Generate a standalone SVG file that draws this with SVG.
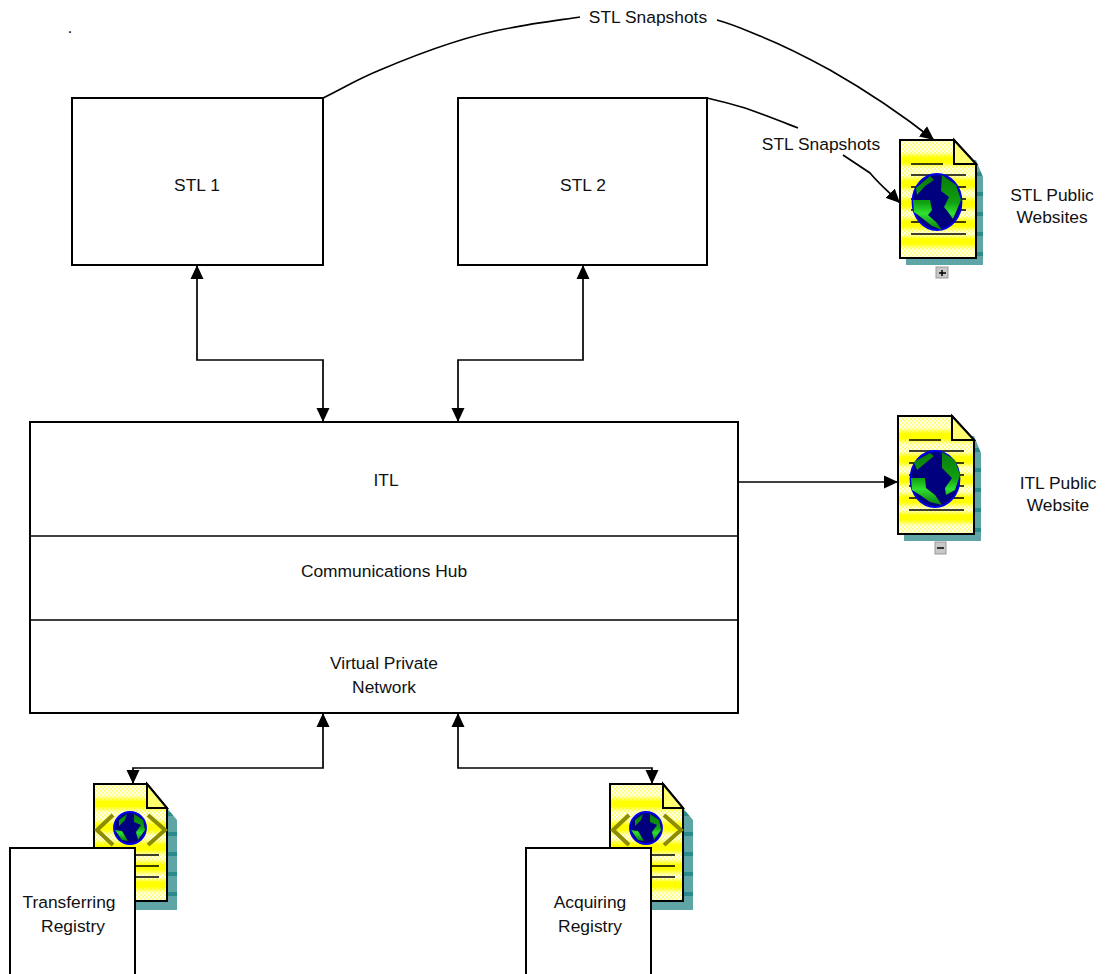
<svg xmlns="http://www.w3.org/2000/svg" width="1106" height="974" viewBox="0 0 1106 974">
<style>
text{font-family:"Liberation Sans",Arial,sans-serif;font-size:17.4px;fill:#111;text-anchor:middle}
.box{fill:#fff;stroke:#000;stroke-width:2}
.con{fill:none;stroke:#000;stroke-width:1.7;marker-end:url(#ah)}
.both{marker-start:url(#ah)}
.plain{fill:none;stroke:#000;stroke-width:1.7}
.ln{stroke:#000;stroke-width:1.6;fill:none}
.earth{fill:#00007f;stroke:#0000f0;stroke-width:1.8}
.land{fill:url(#green)}
.fold{fill:#ffff70;stroke:#000;stroke-width:2}
.edge{fill:none;stroke:#000;stroke-width:2}
</style>
<defs>
<marker id="ah" markerUnits="userSpaceOnUse" markerWidth="15" markerHeight="14" refX="14" refY="7" orient="auto-start-reverse"><path d="M0 0.500L14 7L0 13.500Z" fill="#000"/></marker>
<pattern id="dots" width="4" height="4" patternUnits="userSpaceOnUse"><rect width="4" height="4" fill="#ffff80"/><circle cx="1" cy="1" r="1.200" fill="#fff" fill-opacity=".85"/><circle cx="3" cy="3" r="1.200" fill="#fff" fill-opacity=".85"/></pattern>
<pattern id="tealp" width="6" height="20" patternUnits="userSpaceOnUse"><rect width="6" height="20" fill="#5fa5a5"/><rect y="12" width="6" height="4" fill="#2b8a8a"/></pattern>
<linearGradient id="green" x1="0" y1="0" x2="0" y2="1"><stop offset="0" stop-color="#0a7a0a"/><stop offset=".5" stop-color="#10a010"/><stop offset=".7" stop-color="#30e030"/><stop offset="1" stop-color="#0a7a0a"/></linearGradient>
<linearGradient id="bands" x1="0" y1="0" x2="0" y2="1">
<stop offset=".10" stop-color="#ff0" stop-opacity="0"/><stop offset=".15" stop-color="#ff0"/><stop offset=".19" stop-color="#ff0"/><stop offset=".24" stop-color="#ff0" stop-opacity="0"/>
<stop offset=".30" stop-color="#ff0" stop-opacity="0"/><stop offset=".35" stop-color="#ff0"/><stop offset=".39" stop-color="#ff0"/><stop offset=".44" stop-color="#ff0" stop-opacity="0"/>
<stop offset=".47" stop-color="#ff0" stop-opacity="0"/><stop offset=".52" stop-color="#ff0"/><stop offset=".56" stop-color="#ff0"/><stop offset=".61" stop-color="#ff0" stop-opacity="0"/>
<stop offset=".64" stop-color="#ff0" stop-opacity="0"/><stop offset=".69" stop-color="#ff0"/><stop offset=".73" stop-color="#ff0"/><stop offset=".78" stop-color="#ff0" stop-opacity="0"/>
<stop offset=".80" stop-color="#ff0" stop-opacity="0"/><stop offset=".84" stop-color="#ff0"/><stop offset=".88" stop-color="#ff0"/><stop offset=".93" stop-color="#ff0" stop-opacity="0"/>
</linearGradient>
<g id="sheet">
<path d="M906 258V160H976L983 177V265H906Z" fill="url(#tealp)"/>
<path d="M900 140H954L976 164V258H900Z" fill="url(#dots)"/>
<path d="M900 140H954L976 164V258H900Z" fill="url(#bands)"/>
<path class="edge" d="M900 140H954L976 164V258H900Z"/>
<path class="fold" d="M954 140L976 164H954Z"/>
<path class="ln" d="M911 164H943M911 175H966M911 187H966M911 199H966M911 210H966M911 222H966M911 234H966"/>
</g>
<g id="sheetR">
<path d="M100 901V820H167V808L177 820V910H100Z" fill="url(#tealp)"/>
<path d="M94 784H147L167 808V901H94Z" fill="url(#dots)"/>
<path d="M94 784H147L167 808V901H94Z" fill="url(#bands)"/>
<path class="edge" d="M94 784H147L167 808V901H94Z"/>
<path class="fold" d="M147 784L167 808H147Z"/>
<path class="ln" d="M135 855H159M135 866H159M135 877H159"/>
<path d="M113 815L97 830L113 845M148 815L165 830L148 845" fill="none" stroke="#8c8c00" stroke-width="4"/>
<ellipse class="earth" cx="130" cy="828" rx="16" ry="16"/>
<path class="land" d="M119 820L127 814L125 820L119 826ZM134 814L143 820L145 830L138 840L136 832L141 825L134 822ZM115 830L122 831L128 841L122 840Z"/>
</g>
</defs>

<g id="connectors">
<path class="plain" d="M323 98C345 87 360 78 380 70C420 53 470 35 510 28C535 23 560 20 580 17"/>
<path class="con" d="M717 20C735 25 745 30 760 36C790 48 810 59 830 70C865 90 905 117 934 140"/>
<path class="plain" d="M707 98C720 101 735 105 745 108C765 115 780 121 798 128"/>
<path class="con" d="M843 155L870 173C880 185 890 193 900 203"/>
<path class="con both" d="M197 265V360H323V422"/>
<path class="con both" d="M583 265V360H458V422"/>
<path class="con" d="M738 482H898"/>
<path class="con both" d="M323 713V768H133V784"/>
<path class="con both" d="M458 713V768H652V784"/>
</g>

<g id="stl-websites">
<use href="#sheet"/>
<ellipse class="earth" cx="937" cy="202" rx="24.500" ry="28"/>
<path class="land" d="M916 188L930 176L934 180L925 186L917 195ZM942 175L956 185L961 200L953 219L948 212L944 207L949 197L941 191ZM913 200L930 200L932 210L928 215L936 222L942 230L932 226L922 218L914 212Z"/>
<rect x="936" y="267" width="12" height="11" fill="#c8c8c8" stroke="#999"/>
<path d="M939 273H946M942 270V276" stroke="#000" stroke-width="1.500"/>
<text x="1052" y="201">STL Public</text>
<text x="1052" y="223">Websites</text>
</g>

<g id="itl-website">
<use href="#sheet" transform="translate(-2 276)"/>
<ellipse class="earth" cx="935" cy="479" rx="24.500" ry="28"/>
<path class="land" d="M914 462L930 453L934 456L917 470ZM942 452L955 460L960 475L955 490L946 495L945 488L952 478L942 468ZM911 478L925 478L926 488L935 495L942 505L930 502L920 495L912 490Z"/>
<rect x="935" y="542" width="11" height="12" fill="#c8c8c8" stroke="#999"/>
<path d="M937 548H944" stroke="#000" stroke-width="1.500"/>
<text x="1058" y="489">ITL Public</text>
<text x="1058" y="511">Website</text>
</g>

<g id="stl-1"><rect class="box" x="72" y="98" width="251" height="167"/><text x="197" y="191">STL 1</text></g>
<g id="stl-2"><rect class="box" x="458" y="98" width="249" height="167"/><text x="583" y="191">STL 2</text></g>

<g id="itl-stack">
<rect class="box" x="30" y="422" width="708" height="291"/>
<path class="ln" d="M30 536H738M30 620H738"/>
<text x="386" y="486">ITL</text>
<text x="384" y="577">Communications Hub</text>
<text x="384" y="669">Virtual Private</text>
<text x="384" y="693">Network</text>
</g>

<g id="transferring-registry">
<use href="#sheetR"/>
<rect class="box" x="10" y="848" width="125" height="128"/>
<text x="69" y="908">Transferring</text>
<text x="73" y="932">Registry</text>
</g>
<g id="acquiring-registry">
<use href="#sheetR" transform="translate(516 0)"/>
<rect class="box" x="526" y="848" width="125" height="128"/>
<text x="590" y="908">Acquiring</text>
<text x="590" y="932">Registry</text>
</g>

<g id="labels">
<text x="70" y="33">.</text>
<text x="648" y="23">STL Snapshots</text>
<text x="821" y="150">STL Snapshots</text>
</g>
</svg>
